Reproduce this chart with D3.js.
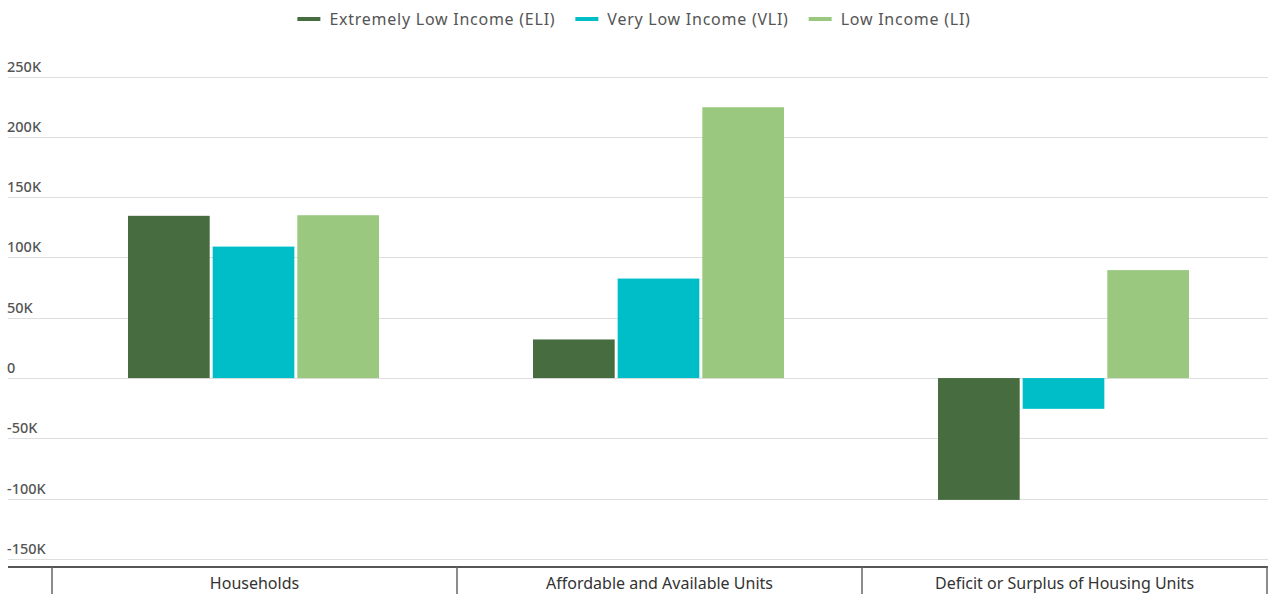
<!DOCTYPE html>
<html><head><meta charset="utf-8">
<script src="https://cdn.jsdelivr.net/npm/d3@7"></script>
<style>
html,body{margin:0;padding:0;background:#fff;}
svg{display:block;font-family:"Noto Sans","Open Sans",sans-serif;}
</style></head>
<body><svg id="chart" width="1268" height="594"></svg>
<script>
const categories = ["Households", "Affordable and Available Units", "Deficit or Surplus of Housing Units"];
const seriesNames = ["Extremely Low Income (ELI)", "Very Low Income (VLI)", "Low Income (LI)"];
const seriesColors = ["#476c40", "#00bec8", "#9ac87e"];
const eliValues = [134500, 32000, -101000];
const vliValues = [109000, 82500, -25500];
const liValues = [135000, 224500, 89500];
const yTicks = [-150000, -100000, -50000, 0, 50000, 100000, 150000, 200000, 250000];
const yTickLabels = ["-150K", "-100K", "-50K", "0", "50K", "100K", "150K", "200K", "250K"];

const series = [eliValues, vliValues, liValues];
const svg = d3.select("#chart");
const W = 1268;
const left = 52, right = 1267;

const y = d3.scaleLinear().domain([-150000, 250000]).range([559, 76.5]);
const x0 = d3.scaleBand().domain(categories).range([left, right]).paddingInner(0).paddingOuter(0);
const x1 = d3.scaleBand().domain(seriesNames).range([76, x0.bandwidth() - 78]).paddingInner(0.035);

// gridlines
svg.append("g").selectAll("line").data(yTicks).join("line")
  .attr("x1", 8).attr("x2", W).attr("y1", d => Math.round(y(d)) + 0.5).attr("y2", d => Math.round(y(d)) + 0.5)
  .attr("stroke", "#dedede").attr("stroke-width", 1);

// y labels
svg.append("g").selectAll("text").data(yTicks).join("text")
  .attr("x", 7).attr("y", d => y(d) - 5)
  .attr("fill", "#555").attr("font-size", 14.5).attr("font-weight", 500)
  .text((d, i) => yTickLabels[i]);

// bars
const g = svg.append("g");
categories.forEach((c, ci) => {
  series.forEach((vals, si) => {
    const v = vals[ci];
    g.append("rect")
      .attr("x", x0(c) + x1(seriesNames[si]))
      .attr("width", x1.bandwidth())
      .attr("y", y(Math.max(0, v)))
      .attr("height", Math.abs(y(v) - y(0)))
      .attr("fill", seriesColors[si]);
  });
});

// category axis
const axisY = 567;
svg.append("line").attr("x1", 8).attr("x2", right + 1).attr("y1", axisY).attr("y2", axisY)
  .attr("stroke", "#555").attr("stroke-width", 2);
const bounds = categories.map(c => x0(c)).concat([x0(categories[categories.length - 1]) + x0.bandwidth()]);
svg.append("g").selectAll("line").data(bounds).join("line")
  .attr("x1", d => d).attr("x2", d => d).attr("y1", axisY).attr("y2", 594)
  .attr("stroke", "#666").attr("stroke-width", 1.5);
svg.append("g").selectAll("text").data(categories).join("text")
  .attr("x", d => x0(d) + x0.bandwidth() / 2).attr("y", 589)
  .attr("text-anchor", "middle").attr("fill", "#333").attr("font-size", 16)
  .text(d => d);

// legend
const leg = svg.append("g");
let cx = 0;
seriesNames.forEach((n, i) => {
  const it = leg.append("g");
  it.append("rect").attr("x", 0).attr("y", -2).attr("width", 23).attr("height", 4).attr("fill", seriesColors[i]);
  const t = it.append("text").attr("x", 32).attr("y", 6).attr("font-size", 16)
    .attr("letter-spacing", 0.75).attr("fill", "#555").text(n);
  const w = 32 + t.node().getComputedTextLength();
  it.attr("transform", `translate(${cx},0)`);
  cx += w + 20;
});
const totalW = cx - 20;
leg.attr("transform", `translate(${(W - totalW) / 2},19)`);
</script>
</body></html>
